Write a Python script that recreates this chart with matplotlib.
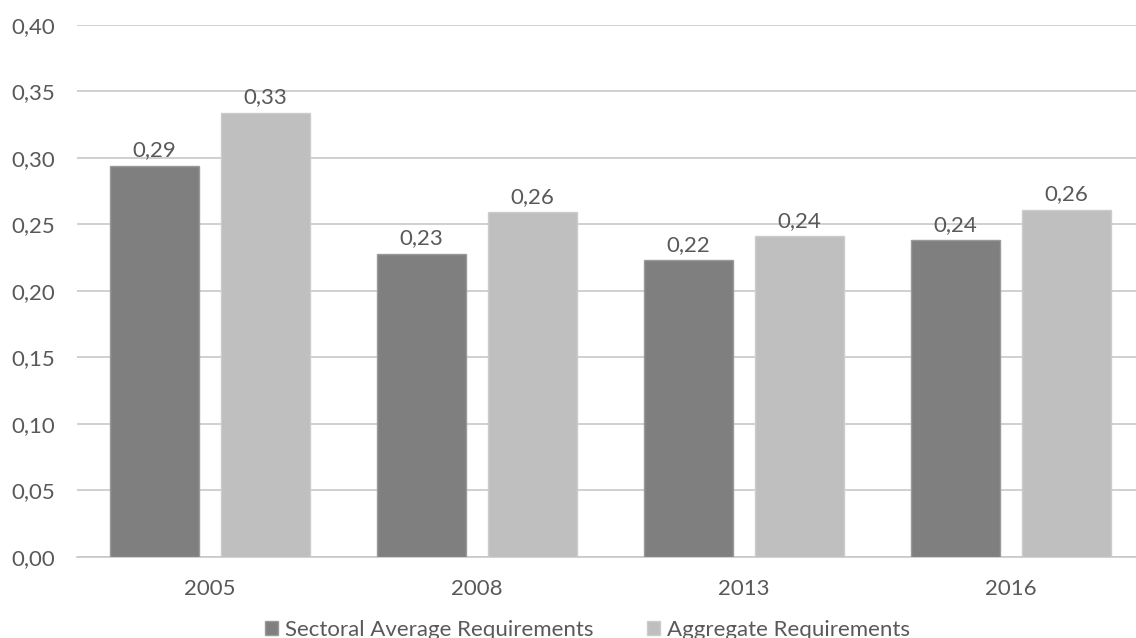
import numpy as np
import matplotlib.pyplot as plt

plt.rcParams['font.family'] = ['Lato', 'DejaVu Sans']

years = ['2005', '2008', '2013', '2016']
sectoral = [0.294, 0.228, 0.223, 0.238]
aggregate = [0.334, 0.259, 0.241, 0.261]

dark = '#7f7f7f'
light = '#bfbfbf'
txt = '#595959'
fs = 16

fig = plt.figure(figsize=(11.36, 6.38), dpi=100)
ax = fig.add_axes([0.068, 0.127, 0.932, 0.834])

x = np.arange(len(years))
w = 0.333
off = 0.208
b1 = ax.bar(x - off, sectoral, w, color=dark, edgecolor='#9a9a9a', linewidth=1,
            label='Sectoral Average Requirements', zorder=3)
b2 = ax.bar(x + off, aggregate, w, color=light, edgecolor='#cccccc', linewidth=1,
            label='Aggregate Requirements', zorder=3)

for bars, vals in [(b1, sectoral), (b2, aggregate)]:
    for r, v in zip(bars, vals):
        ax.text(r.get_x() + r.get_width() / 2, v + 0.004, f'{v:.2f}'.replace('.', ','),
                ha='center', va='bottom', fontsize=fs, color=txt)

ax.set_ylim(0, 0.40)
ax.set_xlim(-0.498, 3.468)
yt = np.arange(0, 0.401, 0.05)
ax.set_yticks(yt)
ax.set_yticklabels([f'{v:.2f}'.replace('.', ',') for v in yt])
ax.set_xticks(x)
ax.set_xticklabels(years)
ax.tick_params(axis='both', length=0, labelsize=fs, colors=txt)
ax.tick_params(axis='y', pad=16)
ax.tick_params(axis='x', pad=16)
ax.grid(axis='y', color='#c8c8c8', linewidth=1.2, zorder=0)
for s in ['top', 'right', 'left']:
    ax.spines[s].set_visible(False)
ax.spines['bottom'].set_color('#c8c8c8')
ax.spines['bottom'].set_linewidth(1.2)

fig.legend(loc='lower center', bbox_to_anchor=(0.517, -0.034), ncol=2, frameon=False,
           fontsize=fs, labelcolor=txt, handlelength=0.6, handleheight=0.6,
           handletextpad=0.3, columnspacing=2.4)

fig.savefig('out.png', dpi=100)
